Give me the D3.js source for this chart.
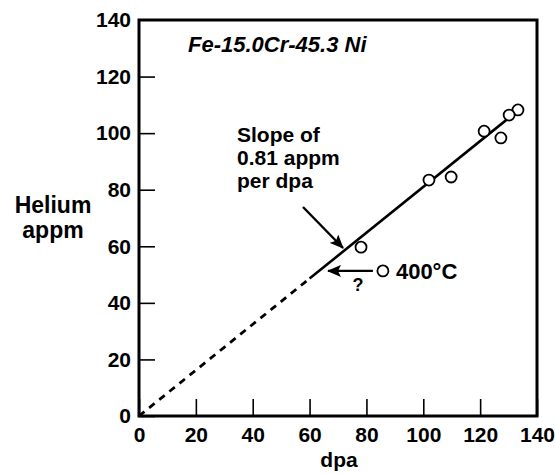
<!DOCTYPE html>
<html lang="en">
  <head>
    <meta charset="UTF-8" />
    <title>Helium vs dpa</title>
    <script src="https://cdn.jsdelivr.net/npm/d3@7"></script>
    <style>
      body { margin: 0; background: #fff; }
      text { font-family: "Liberation Sans", Arial, sans-serif; font-weight: bold; fill: #000; }
    </style>
  </head>
  <body>
    <svg id="svg"></svg>
  </body>
  <script>
    // data
    const dpa = [133.3, 130.2, 121.4, 127.3, 109.8, 102.0, 78.1];
    const helium = [108.2, 106.4, 100.7, 98.3, 84.5, 83.4, 59.7];
    const point400 = [85.8, 51.3]; // the 400°C point
    const slope = 0.81;
    const fitDashed = [0, 60];
    const fitSolid = [60, 133];
    const xTicks = [0, 20, 40, 60, 80, 100, 120, 140];
    const yTicks = [0, 20, 40, 60, 80, 100, 120, 140];

    const W = 555, H = 474;
    const svg = d3.select("#svg").attr("width", W).attr("height", H);

    const x = d3.scaleLinear().domain([0, 140]).range([139, 537]);
    const y = d3.scaleLinear().domain([0, 140]).range([416, 20]);

    // arrow head
    svg.append("defs").append("marker")
      .attr("id", "head")
      .attr("viewBox", "0 0 14 12")
      .attr("refX", 13).attr("refY", 6)
      .attr("markerWidth", 14).attr("markerHeight", 12)
      .attr("markerUnits", "userSpaceOnUse")
      .attr("orient", "auto")
      .append("path").attr("d", "M0,0 L14,6 L0,12 L3,6 z").attr("fill", "#000");

    // axes, ticks point inward
    const gy = svg.append("g").attr("transform", `translate(${x(0)},0)`)
      .call(d3.axisLeft(y).tickValues(yTicks.slice(0, -1)).tickSize(-16));
    // top label 140 has no tick
    svg.append("text").attr("x", x(0) - 8).attr("y", y(140)).attr("dy", "0.32em")
      .attr("text-anchor", "end").style("font-size", "21px").text(yTicks[yTicks.length - 1]);

    const gx = svg.append("g").attr("transform", `translate(0,${y(0)})`)
      .call(d3.axisBottom(x).tickValues(xTicks).tickSize(-17));

    [gx, gy].forEach(g => {
      g.select(".domain").remove();
      g.selectAll(".tick line").attr("stroke", "#000").attr("stroke-width", 1.6);
      g.selectAll(".tick text").attr("fill", "#000")
        .style("font-family", "'Liberation Sans', Arial, sans-serif")
        .style("font-size", "21px");
    });
    gy.selectAll(".tick text").attr("x", -8);
    gx.selectAll(".tick text").attr("y", 11);

    // frame
    svg.append("path")
      .attr("d", `M${x(0)},${y(0)} L${x(0)},${y(140)} L${x(140)},${y(140)} L${x(140)},${y(0)} Z`)
      .attr("fill", "none").attr("stroke", "#000").attr("stroke-width", 3);

    // axis titles
    svg.append("text").attr("x", 53).attr("y", 213).attr("text-anchor", "middle")
      .style("font-size", "23px").text("Helium");
    svg.append("text").attr("x", 53).attr("y", 238).attr("text-anchor", "middle")
      .style("font-size", "23px").text("appm");
    svg.append("text").attr("x", 339).attr("y", 467).attr("text-anchor", "middle")
      .style("font-size", "21px").text("dpa");

    // fit line
    const line = d3.line().x(d => x(d)).y(d => y(slope * d));
    svg.append("path").attr("d", line(fitDashed))
      .attr("fill", "none").attr("stroke", "#000").attr("stroke-width", 2.8)
      .attr("stroke-dasharray", "7,6");
    svg.append("path").attr("d", line(fitSolid))
      .attr("fill", "none").attr("stroke", "#000").attr("stroke-width", 2.6);

    // data points
    svg.selectAll("circle.pt").data(dpa.map((d, i) => [d, helium[i]]).concat([point400]))
      .join("circle").attr("class", "pt")
      .attr("cx", d => x(d[0])).attr("cy", d => y(d[1])).attr("r", 5.5)
      .attr("fill", "#fff").attr("stroke", "#000").attr("stroke-width", 1.8);

    // title
    svg.append("text").attr("x", 188).attr("y", 52)
      .style("font-size", "22px").style("font-style", "italic")
      .text("Fe-15.0Cr-45.3 Ni");

    // slope annotation
    ["Slope of", "0.81 appm", "per dpa"].forEach((t, i) => {
      svg.append("text").attr("x", 237).attr("y", 142 + i * 23)
        .style("font-size", "21px").text(t);
    });
    svg.append("line")
      .attr("x1", 303).attr("y1", 207).attr("x2", 343).attr("y2", 248)
      .attr("stroke", "#000").attr("stroke-width", 2.4).attr("marker-end", "url(#head)");

    // 400°C annotation
    svg.append("line")
      .attr("x1", x(point400[0]) - 10).attr("y1", y(point400[1]))
      .attr("x2", 328).attr("y2", y(point400[1]))
      .attr("stroke", "#000").attr("stroke-width", 2.4).attr("marker-end", "url(#head)");
    svg.append("text").attr("x", x(point400[0]) + 13).attr("y", y(point400[1]) + 8)
      .style("font-size", "22px").text("400°C");
    svg.append("text").attr("x", 358).attr("y", 291).attr("text-anchor", "middle")
      .style("font-size", "18px").text("?");
  </script>
</html>
